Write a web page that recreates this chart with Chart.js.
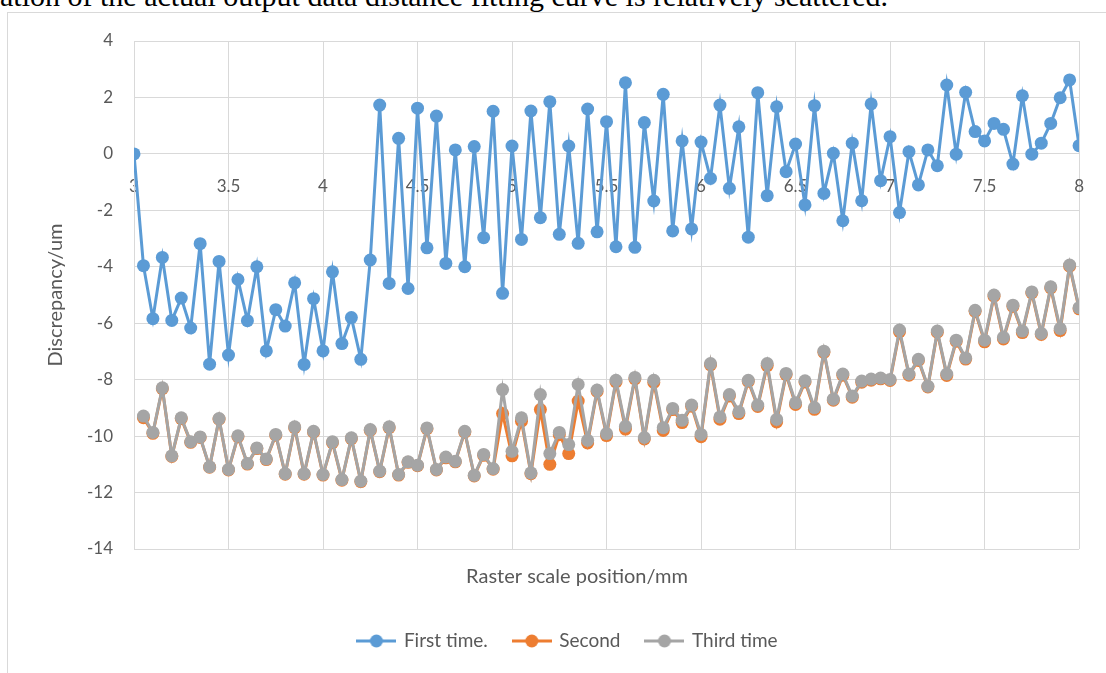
<!DOCTYPE html>
<html>
<head>
<meta charset="utf-8">
<script src="https://cdn.jsdelivr.net/npm/chart.js@4.4.1/dist/chart.umd.min.js"></script>
<style>
  body { margin: 0; width: 1106px; height: 673px; overflow: hidden; background: #fff; position: relative; }
  #caption { position: absolute; left: 0; top: -19px; font: 30px/30px "Liberation Serif", serif; white-space: nowrap; color: #000; }
  #frame { position: absolute; left: 7px; top: 12px; width: 1200px; height: 700px; border: 1px solid #d9d9d9; }
  #chart { position: absolute; left: 0; top: 0; }
</style>
</head>
<body>
<div id="caption">ation of the actual output data distance fitting curve is relatively scattered.</div>
<div id="frame"></div>
<canvas id="chart" width="1106" height="673"></canvas>
<script>
// Positions on the raster scale (mm)
const positions = [
  3, 3.05, 3.1, 3.15, 3.2, 3.25, 3.3, 3.35, 3.4, 3.45,
  3.5, 3.55, 3.6, 3.65, 3.7, 3.75, 3.8, 3.85, 3.9, 3.95,
  4, 4.05, 4.1, 4.15, 4.2, 4.25, 4.3, 4.35, 4.4, 4.45,
  4.5, 4.55, 4.6, 4.65, 4.7, 4.75, 4.8, 4.85, 4.9, 4.95,
  5, 5.05, 5.1, 5.15, 5.2, 5.25, 5.3, 5.35, 5.4, 5.45,
  5.5, 5.55, 5.6, 5.65, 5.7, 5.75, 5.8, 5.85, 5.9, 5.95,
  6, 6.05, 6.1, 6.15, 6.2, 6.25, 6.3, 6.35, 6.4, 6.45,
  6.5, 6.55, 6.6, 6.65, 6.7, 6.75, 6.8, 6.85, 6.9, 6.95,
  7, 7.05, 7.1, 7.15, 7.2, 7.25, 7.3, 7.35, 7.4, 7.45,
  7.5, 7.55, 7.6, 7.65, 7.7, 7.75, 7.8, 7.85, 7.9, 7.95,
  8
]

const firstTime = [
  0, -3.96, -5.84, -3.67, -5.9, -5.11, -6.17, -3.18, -7.45, -3.81,
  -7.13, -4.45, -5.91, -4.0, -6.98, -5.52, -6.1, -4.57, -7.46, -5.13,
  -6.98, -4.18, -6.72, -5.8, -7.28, -3.76, 1.73, -4.59, 0.55, -4.77,
  1.62, -3.33, 1.34, -3.88, 0.14, -4.0, 0.26, -2.97, 1.51, -4.94,
  0.28, -3.03, 1.52, -2.26, 1.85, -2.85, 0.28, -3.17, 1.59, -2.76,
  1.14, -3.29, 2.52, -3.31, 1.11, -1.67, 2.11, -2.73, 0.46, -2.66,
  0.42, -0.87, 1.73, -1.22, 0.96, -2.95, 2.17, -1.48, 1.67, -0.63,
  0.35, -1.81, 1.71, -1.4, 0.02, -2.37, 0.38, -1.66, 1.77, -0.95,
  0.61, -2.08, 0.08, -1.1, 0.14, -0.42, 2.44, -0.01, 2.18, 0.79,
  0.46, 1.08, 0.87, -0.36, 2.06, -0.01, 0.38, 1.08, 1.99, 2.62,
  0.29
]

const secondTime = [
  null, -9.35, -9.9, -8.32, -10.72, -9.38, -10.22, -10.05, -11.1, -9.4,
  -11.2, -10.02, -10.99, -10.44, -10.83, -9.97, -11.35, -9.7, -11.35, -9.86,
  -11.38, -10.23, -11.56, -10.09, -11.61, -9.8, -11.26, -9.7, -11.38, -10.93,
  -11.05, -9.74, -11.2, -10.77, -10.91, -9.86, -11.41, -10.68, -11.17, -9.2,
  -10.7, -9.47, -11.33, -9.06, -11.0, -9.95, -10.62, -8.76, -10.24, -8.42,
  -9.98, -8.08, -9.75, -7.97, -10.1, -8.1, -9.8, -9.06, -9.52, -8.94,
  -10.02, -7.48, -9.4, -8.58, -9.2, -8.06, -8.95, -7.5, -9.5, -7.82,
  -8.88, -8.08, -9.05, -7.03, -8.73, -7.84, -8.62, -8.09, -8.02, -7.97,
  -8.03, -6.3, -7.84, -7.32, -8.26, -6.32, -7.85, -6.64, -7.27, -5.58,
  -6.66, -5.04, -6.56, -5.4, -6.33, -4.93, -6.4, -4.75, -6.26, -3.98,
  -5.49
]

const thirdTime = [
  null, -9.29, -9.87, -8.29, -10.7, -9.35, -10.2, -10.03, -11.09, -9.38,
  -11.18, -9.99, -10.97, -10.42, -10.81, -9.94, -11.33, -9.67, -11.33, -9.83,
  -11.36, -10.2, -11.54, -10.06, -11.59, -9.77, -11.24, -9.67, -11.36, -10.91,
  -11.03, -9.71, -11.18, -10.74, -10.89, -9.83, -11.39, -10.65, -11.15, -8.35,
  -10.54, -9.35, -11.3, -8.53, -10.62, -9.87, -10.3, -8.17, -10.15, -8.37,
  -9.91, -8.02, -9.65, -7.92, -10.05, -8.02, -9.7, -9.02, -9.44, -8.9,
  -9.94, -7.43, -9.32, -8.53, -9.14, -8.02, -8.9, -7.43, -9.41, -7.78,
  -8.82, -8.04, -8.99, -6.99, -8.69, -7.8, -8.58, -8.05, -7.98, -7.94,
  -7.99, -6.24, -7.8, -7.28, -8.23, -6.28, -7.8, -6.6, -7.23, -5.54,
  -6.6, -5.0, -6.5, -5.36, -6.28, -4.89, -6.36, -4.71, -6.19, -3.94,
  -5.45
]

const xTicks = [3, 3.5, 4, 4.5, 5, 5.5, 6, 6.5, 7, 7.5, 8]
const yTicks = [4, 2, 0, -2, -4, -6, -8, -10, -12, -14]

const seriesNames = ["First time.", "Second", "Third time"]
const seriesColors = ["#5b9bd5", "#ed7d31", "#a5a5a5"]

const textColor = "#595959"
const gridColor = "#d9d9d9"
const fontFamily = "Lato, 'Noto Sans', sans-serif"

// pair each value with its position
function toPoints(values) {
  return positions.map((x, i) => ({ x: x, y: values[i] }))
}

// small "line with dot" marker for the legend, like Excel draws it
function legendMarker(color) {
  const c = document.createElement("canvas")
  c.width = 40
  c.height = 16
  const ctx = c.getContext("2d")
  ctx.strokeStyle = color
  ctx.lineWidth = 3
  ctx.beginPath()
  ctx.moveTo(0, 8)
  ctx.lineTo(40, 8)
  ctx.stroke()
  ctx.fillStyle = color
  ctx.beginPath()
  ctx.arc(20, 8, 6.5, 0, Math.PI * 2)
  ctx.fill()
  return c
}

function makeDataset(i, values, order) {
  return {
    label: seriesNames[i],
    data: toPoints(values),
    borderColor: seriesColors[i],
    backgroundColor: seriesColors[i],
    pointBackgroundColor: seriesColors[i],
    pointBorderColor: seriesColors[i],
    borderWidth: 3,
    pointRadius: 6.5,
    pointBorderWidth: 0,
    tension: 0,
    spanGaps: false,
    order: order,
  }
}

// Excel centres the axis title and legend on the whole chart box, not the plot
const recenter = {
  id: "recenter",
  afterLayout(chart) {
    const x2 = chart.scales.x2
    const dx = 577 - (x2.left + x2.right) / 2
    x2.left += dx
    x2.right += dx
    const lg = chart.legend
    const dl = 568 - (lg.left + lg.right) / 2
    lg.left += dl
    lg.right += dl
  },
}

new Chart(document.getElementById("chart"), {
  type: "line",
  data: {
    datasets: [
      makeDataset(0, firstTime, 0),
      makeDataset(1, secondTime, 2),
      makeDataset(2, thirdTime, 1),
    ],
  },
  plugins: [recenter],
  options: {
    responsive: false,
    animation: false,
    events: [],
    layout: { padding: { left: 0, right: 20, top: 41, bottom: 12.5 } },
    scales: {
      x: {
        type: "linear",
        position: { y: 0 },
        min: 3,
        max: 8,
        afterBuildTicks: (scale) => { scale.ticks = xTicks.map((v) => ({ value: v })) },
        ticks: {
          color: textColor,
          font: { family: fontFamily, size: 17 },
          padding: 22,
          maxRotation: 0,
          callback: (v) => String(v),
        },
        grid: { color: gridColor, lineWidth: 1, drawTicks: false },
        border: { color: gridColor, width: 1 },
      },
      x2: {
        type: "linear",
        position: "bottom",
        min: 3,
        max: 8,
        ticks: { display: false },
        grid: { display: false, drawTicks: false },
        border: { display: false },
        title: {
          display: true,
          text: "Raster scale position/mm",
          color: textColor,
          font: { family: fontFamily, size: 20 },
          padding: { top: 16, bottom: 16.5 },
        },
      },
      y: {
        type: "linear",
        position: "left",
        min: -14,
        max: 4,
        afterBuildTicks: (scale) => { scale.ticks = yTicks.map((v) => ({ value: v })) },
        afterFit: (scale) => { scale.width = 134 },
        ticks: { color: textColor, font: { family: fontFamily, size: 17 }, padding: 21 },
        grid: { color: gridColor, lineWidth: 1, drawTicks: false },
        border: { color: gridColor, width: 1 },
        title: {
          display: true,
          text: "Discrepancy/um",
          color: textColor,
          font: { family: fontFamily, size: 20 },
          padding: { top: 44, bottom: 0 },
        },
      },
    },
    plugins: {
      tooltip: { enabled: false },
      legend: {
        position: "bottom",
        labels: {
          color: textColor,
          font: { family: fontFamily, size: 19 },
          usePointStyle: true,
          pointStyleWidth: 36,
          padding: 26,
          sort: (a, b) => a.datasetIndex - b.datasetIndex,
          generateLabels: (chart) => {
            const items = Chart.defaults.plugins.legend.labels.generateLabels(chart)
            items.forEach((it) => { it.pointStyle = legendMarker(seriesColors[it.datasetIndex]) })
            return items
          },
        },
      },
    },
  },
})
</script>
</body>
</html>
